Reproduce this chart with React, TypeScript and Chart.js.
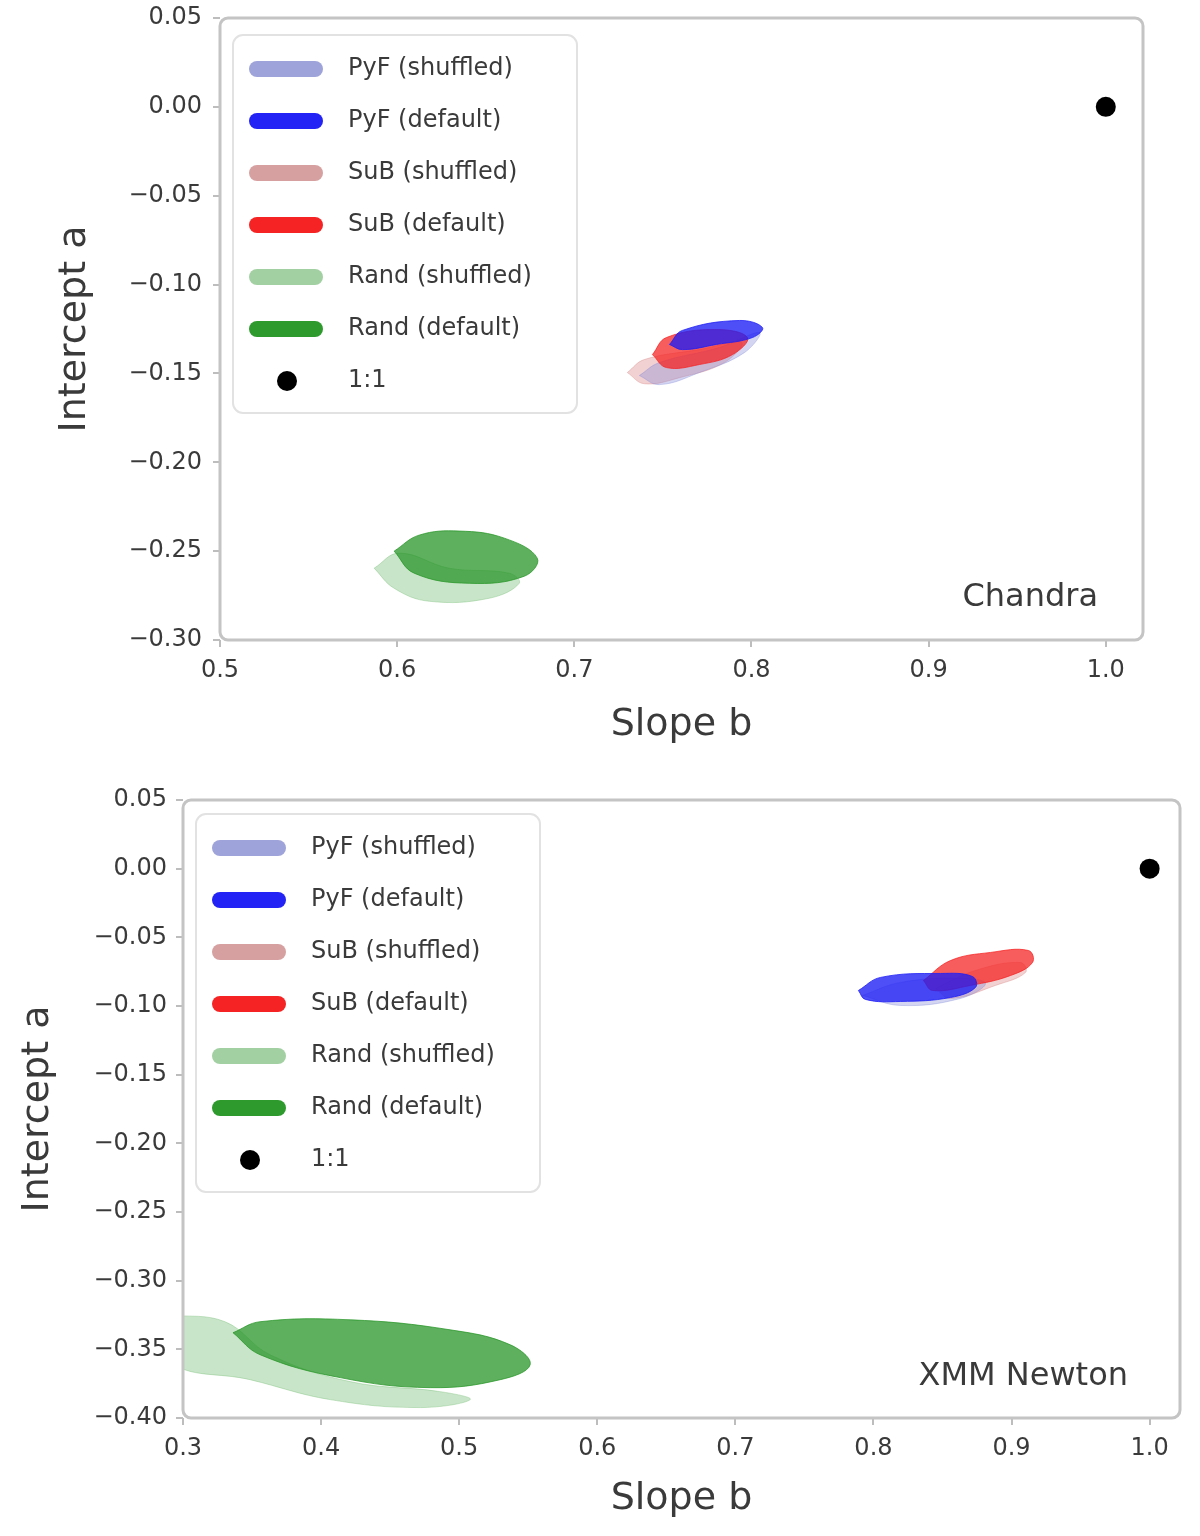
import React, { useEffect, useRef } from 'react';
import { Chart, registerables } from 'chart.js';

Chart.register(...registerables);

const FONT = '"DejaVu Sans", "Noto Sans", sans-serif';

// ---- Series meta ----
const seriesLabels = ['PyF (shuffled)', 'PyF (default)', 'SuB (shuffled)', 'SuB (default)', 'Rand (shuffled)', 'Rand (default)'];
const oneToOneLabel = '1:1';
const swatchColors = ['#9ea3d9', '#2323f5', '#d6a0a0', '#f52323', '#a3d0a3', '#2e9a2e'];
const fillColors = [
  'rgba(130,135,215,0.35)',
  'rgba(30,30,245,0.78)',
  'rgba(220,140,140,0.40)',
  'rgba(245,30,30,0.72)',
  'rgba(120,190,120,0.40)',
  'rgba(40,150,40,0.75)',
];
const seriesOrder = [4, 1, 5, 2, 6, 3];

type P = { x: number; y: number };

// ---- Top panel: Chandra ----
const chandraXTicks = [0.5, 0.6, 0.7, 0.8, 0.9, 1.0];
const chandraYTicks = [0.05, 0.0, -0.05, -0.1, -0.15, -0.2, -0.25, -0.3];
const chandraPyFShuffled: P[] = [
  { x: 0.7367, y: -0.1512 }, { x: 0.748, y: -0.1439 }, { x: 0.7819, y: -0.1354 }, { x: 0.8045, y: -0.127 },
  { x: 0.796, y: -0.1383 }, { x: 0.7706, y: -0.1495 }, { x: 0.748, y: -0.1563 },
];
const chandraPyFDefault: P[] = [
  { x: 0.7537, y: -0.1337 }, { x: 0.761, y: -0.1258 }, { x: 0.7932, y: -0.1202 }, { x: 0.8062, y: -0.1242 },
  { x: 0.8006, y: -0.1298 }, { x: 0.7802, y: -0.1337 }, { x: 0.761, y: -0.1366 },
];
const chandraSuBShuffled: P[] = [
  { x: 0.7299, y: -0.1495 }, { x: 0.7395, y: -0.1422 }, { x: 0.7706, y: -0.1366 }, { x: 0.7944, y: -0.1326 },
  { x: 0.7847, y: -0.1439 }, { x: 0.7593, y: -0.1524 }, { x: 0.7395, y: -0.1558 },
];
const chandraSuBDefault: P[] = [
  { x: 0.7441, y: -0.1394 }, { x: 0.752, y: -0.1298 }, { x: 0.7802, y: -0.1253 }, { x: 0.7977, y: -0.1298 },
  { x: 0.7893, y: -0.1394 }, { x: 0.7706, y: -0.145 }, { x: 0.752, y: -0.1467 },
];
const chandraRandShuffled: P[] = [
  { x: 0.587, y: -0.2596 }, { x: 0.6011, y: -0.2511 }, { x: 0.6294, y: -0.2596 }, { x: 0.6633, y: -0.2624 },
  { x: 0.6689, y: -0.2681 }, { x: 0.652, y: -0.2765 }, { x: 0.6181, y: -0.2782 }, { x: 0.5983, y: -0.2709 },
];
const chandraRandDefault: P[] = [
  { x: 0.5983, y: -0.25 }, { x: 0.6124, y: -0.241 }, { x: 0.635, y: -0.2387 }, { x: 0.6605, y: -0.2427 },
  { x: 0.6791, y: -0.254 }, { x: 0.6718, y: -0.2641 }, { x: 0.6407, y: -0.2681 }, { x: 0.6096, y: -0.2624 },
];

// ---- Bottom panel: XMM Newton ----
const xmmXTicks = [0.3, 0.4, 0.5, 0.6, 0.7, 0.8, 0.9, 1.0];
const xmmYTicks = [0.05, 0.0, -0.05, -0.1, -0.15, -0.2, -0.25, -0.3, -0.35, -0.4];
const xmmPyFShuffled: P[] = [
  { x: 0.792, y: -0.0923 }, { x: 0.8196, y: -0.0828 }, { x: 0.863, y: -0.0799 }, { x: 0.8812, y: -0.0836 },
  { x: 0.863, y: -0.0945 }, { x: 0.8196, y: -0.0996 },
];
const xmmPyFDefault: P[] = [
  { x: 0.7891, y: -0.0887 }, { x: 0.8051, y: -0.0792 }, { x: 0.8486, y: -0.0763 }, { x: 0.8717, y: -0.0785 },
  { x: 0.8739, y: -0.0865 }, { x: 0.8558, y: -0.0938 }, { x: 0.8196, y: -0.0967 }, { x: 0.7942, y: -0.0952 },
];
const xmmSuBShuffled: P[] = [
  { x: 0.8449, y: -0.0872 }, { x: 0.8739, y: -0.0741 }, { x: 0.9065, y: -0.0683 }, { x: 0.9101, y: -0.0756 },
  { x: 0.8884, y: -0.085 }, { x: 0.8558, y: -0.0945 },
];
const xmmSuBDefault: P[] = [
  { x: 0.8362, y: -0.0814 }, { x: 0.8558, y: -0.0669 }, { x: 0.8848, y: -0.061 }, { x: 0.9123, y: -0.0596 },
  { x: 0.9152, y: -0.0683 }, { x: 0.8993, y: -0.0778 }, { x: 0.8703, y: -0.085 }, { x: 0.8428, y: -0.0887 },
];
const xmmRandShuffled: P[] = [
  { x: 0.2906, y: -0.3249 }, { x: 0.3304, y: -0.3299 }, { x: 0.363, y: -0.3539 }, { x: 0.421, y: -0.3735 },
  { x: 0.4862, y: -0.3808 }, { x: 0.508, y: -0.3866 }, { x: 0.4717, y: -0.3924 }, { x: 0.4065, y: -0.3866 },
  { x: 0.3486, y: -0.3721 }, { x: 0.2906, y: -0.359 },
];
const xmmRandDefault: P[] = [
  { x: 0.3362, y: -0.3379 }, { x: 0.3558, y: -0.3299 }, { x: 0.421, y: -0.3285 }, { x: 0.4935, y: -0.3358 },
  { x: 0.537, y: -0.3467 }, { x: 0.5514, y: -0.3612 }, { x: 0.5297, y: -0.3721 }, { x: 0.479, y: -0.3779 },
  { x: 0.4138, y: -0.3706 }, { x: 0.3558, y: -0.3539 },
];

const oneToOne: P[] = [{ x: 1.0, y: 0.0 }];

const fmt = (v: number, d: number) => {
  const s = Math.abs(v) < 1e-9 ? (0).toFixed(d) : v.toFixed(d);
  return s.replace('-', '\u2212');
};

type PanelCfg = {
  name: string;
  contours: P[][];
  xTicks: number[];
  yTicks: number[];
  xMin: number; xMax: number; yMin: number; yMax: number;
  areaLeft: number; areaRight: number; areaTop: number; areaBottom: number;
  yTitlePad: number; xTitlePad: number;
  yTickPad: number; xTickPad: number;
  nameDx: number; nameDy: number;
  legendDy: number;
};

const W = 1200;
const H = 768;

function Panel({ cfg, top }: { cfg: PanelCfg; top: number }) {
  const ref = useRef<HTMLCanvasElement | null>(null);
  useEffect(() => {
    if (!ref.current) return;
    const datasets: any[] = cfg.contours.map((pts, i) => ({
      label: seriesLabels[i],
      data: [...pts, pts[0]],
      showLine: true,
      fill: 'shape',
      backgroundColor: fillColors[i],
      borderColor: fillColors[i],
      borderWidth: 1,
      pointRadius: 0,
      pointHoverRadius: 0,
      tension: 0.4,
      order: seriesOrder[i],
    }));
    datasets.push({
      label: oneToOneLabel,
      data: oneToOne,
      showLine: false,
      fill: false,
      pointRadius: 10,
      pointBackgroundColor: '#000',
      pointBorderColor: '#000',
      borderWidth: 0,
      order: 0,
    });

    const decor = {
      id: 'decor',
      afterDraw(chart: any) {
        const { ctx, chartArea: a } = chart;
        ctx.save();
        // frame
        ctx.strokeStyle = '#c4c4c4';
        ctx.lineWidth = 3;
        ctx.beginPath();
        ctx.roundRect(a.left, a.top, a.right - a.left, a.bottom - a.top, 8);
        ctx.stroke();
        // legend box
        const bx = a.left + 13;
        const by = a.top + cfg.legendDy - 34;
        ctx.fillStyle = 'rgba(255,255,255,0.95)';
        ctx.strokeStyle = '#e2e2e2';
        ctx.lineWidth = 2;
        ctx.beginPath();
        ctx.roundRect(bx, by, 344, 378, 10);
        ctx.fill();
        ctx.stroke();
        const labels = [...seriesLabels, oneToOneLabel];
        ctx.font = `24px ${FONT}`;
        ctx.textBaseline = 'middle';
        ctx.textAlign = 'left';
        labels.forEach((lab, i) => {
          const ry = a.top + cfg.legendDy + i * 52;
          if (i < seriesLabels.length) {
            ctx.fillStyle = swatchColors[i];
            ctx.beginPath();
            ctx.roundRect(a.left + 29, ry - 8, 74, 16, 8);
            ctx.fill();
          } else {
            ctx.fillStyle = '#000';
            ctx.beginPath();
            ctx.arc(a.left + 67, ry, 10, 0, Math.PI * 2);
            ctx.fill();
          }
          ctx.fillStyle = '#3a3a3a';
          ctx.fillText(lab, a.left + 128, ry);
        });
        // panel name
        ctx.font = `32px ${FONT}`;
        ctx.textAlign = 'right';
        ctx.fillStyle = '#3a3a3a';
        ctx.fillText(cfg.name, a.right - cfg.nameDx, a.bottom - cfg.nameDy);
        ctx.restore();
      },
    };

    const chart = new Chart(ref.current, {
      type: 'line',
      data: { datasets },
      plugins: [decor],
      options: {
        animation: false,
        responsive: false,
        devicePixelRatio: 1,
        events: [],
        layout: { padding: { left: 0, top: cfg.areaTop, right: W - cfg.areaRight, bottom: 0 } },
        plugins: { legend: { display: false }, tooltip: { enabled: false } },
        scales: {
          x: {
            type: 'linear',
            min: cfg.xMin,
            max: cfg.xMax,
            afterBuildTicks: (s: any) => { s.ticks = cfg.xTicks.map((v) => ({ value: v })); },
            afterFit: (s: any) => {
              s.height = H - cfg.areaBottom;
              s.paddingLeft = 0; s.paddingRight = 0; s.paddingTop = 0; s.paddingBottom = 0;
            },
            ticks: {
              callback: (v: any) => fmt(Number(v), 1),
              font: { size: 24, family: FONT },
              color: '#3a3a3a',
              padding: cfg.xTickPad,
              maxRotation: 0,
              autoSkip: false,
            },
            grid: { display: true, drawOnChartArea: false, drawTicks: true, tickLength: 7, color: '#bdbdbd', lineWidth: 2 },
            border: { display: false },
            title: {
              display: true,
              text: 'Slope b',
              font: { size: 38, family: FONT },
              color: '#3a3a3a',
              padding: { top: 0, bottom: cfg.xTitlePad },
            },
          },
          y: {
            type: 'linear',
            min: cfg.yMin,
            max: cfg.yMax,
            afterBuildTicks: (s: any) => { s.ticks = cfg.yTicks.map((v) => ({ value: v })); },
            afterFit: (s: any) => {
              s.width = cfg.areaLeft;
              s.paddingLeft = 0; s.paddingRight = 0; s.paddingTop = 0; s.paddingBottom = 0;
            },
            ticks: {
              callback: (v: any) => fmt(Number(v), 2),
              font: { size: 24, family: FONT },
              color: '#3a3a3a',
              padding: cfg.yTickPad,
              autoSkip: false,
            },
            grid: { display: true, drawOnChartArea: false, drawTicks: true, tickLength: 7, color: '#bdbdbd', lineWidth: 2 },
            border: { display: false },
            title: {
              display: true,
              text: 'Intercept a',
              font: { size: 38, family: FONT },
              color: '#3a3a3a',
              padding: { top: cfg.yTitlePad, bottom: 0 },
            },
          },
        },
      } as any,
    });
    return () => chart.destroy();
  }, [cfg]);
  return (
    <canvas
      ref={ref}
      width={W}
      height={H}
      style={{ position: 'absolute', left: 0, top, width: W, height: H }}
    />
  );
}

const chandraCfg: PanelCfg = {
  name: 'Chandra',
  contours: [chandraPyFShuffled, chandraPyFDefault, chandraSuBShuffled, chandraSuBDefault, chandraRandShuffled, chandraRandDefault],
  xTicks: chandraXTicks,
  yTicks: chandraYTicks,
  xMin: 0.5, xMax: 1.021, yMin: -0.3, yMax: 0.05,
  areaLeft: 220, areaRight: 1143, areaTop: 18, areaBottom: 640,
  yTitlePad: 52, xTitlePad: 20,
  yTickPad: 11, xTickPad: 9,
  nameDx: 45, nameDy: 42,
  legendDy: 51,
};

const xmmCfg: PanelCfg = {
  name: 'XMM Newton',
  contours: [xmmPyFShuffled, xmmPyFDefault, xmmSuBShuffled, xmmSuBDefault, xmmRandShuffled, xmmRandDefault],
  xTicks: xmmXTicks,
  yTicks: xmmYTicks,
  xMin: 0.3, xMax: 1.022, yMin: -0.4, yMax: 0.05,
  areaLeft: 183, areaRight: 1180, areaTop: 32, areaBottom: 650,
  yTitlePad: 15, xTitlePad: 14,
  yTickPad: 9, xTickPad: 9,
  nameDx: 52, nameDy: 41,
  legendDy: 48,
};

export default function App() {
  return (
    <div style={{ position: 'absolute', left: 0, top: 0, width: W, height: 1536, background: '#fff' }}>
      <Panel cfg={chandraCfg} top={0} />
      <Panel cfg={xmmCfg} top={768} />
    </div>
  );
}
